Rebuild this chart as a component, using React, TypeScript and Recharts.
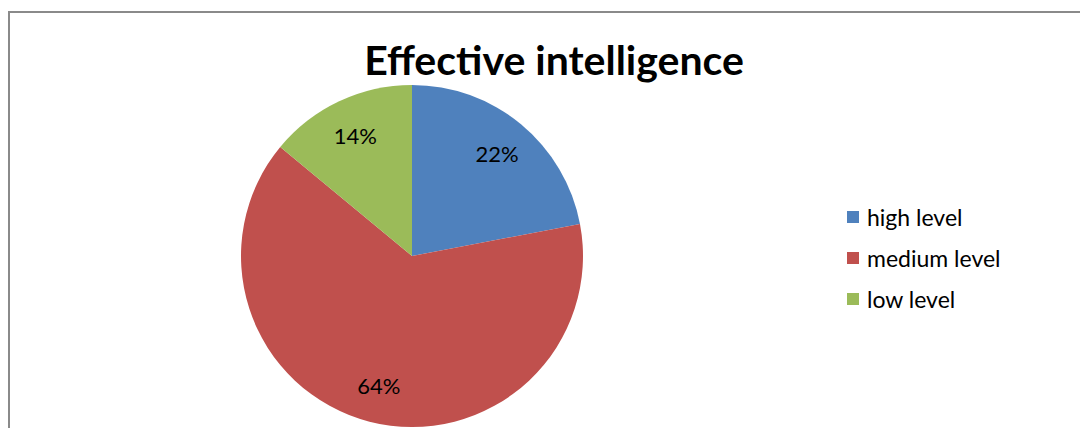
import { Pie, PieChart, Cell, Legend, PieLabelRenderProps } from "recharts";

const levels = ["high level", "medium level", "low level"];
const shares = [22, 64, 14];
const colors = ["#4F81BD", "#C0504D", "#9BBB59"];

const data = levels.map((level, i) => ({ level, share: shares[i] }));

const FONT = "Lato, Carlito, Calibri, sans-serif";

const renderLabel = ({ cx, cy, midAngle, outerRadius, value }: PieLabelRenderProps) => {
  const RADIAN = Math.PI / 180;
  const r = Number(outerRadius) * 0.78;
  const x = Number(cx) + r * Math.cos(-RADIAN * Number(midAngle));
  const y = Number(cy) + r * Math.sin(-RADIAN * Number(midAngle));
  return (
    <text
      x={x}
      y={y}
      textAnchor="middle"
      dominantBaseline="central"
      fill="#000"
      fontSize={22}
      fontFamily={FONT}
    >{`${value}%`}</text>
  );
};

const renderLegend = () => (
  <ul style={{ listStyle: "none", margin: 0, padding: 0, fontFamily: FONT }}>
    {levels.map((level, i) => (
      <li key={level} style={{ display: "flex", alignItems: "center", height: 41, fontSize: 23, color: "#000" }}>
        <span style={{ display: "inline-block", width: 12, height: 12, background: colors[i], marginRight: 8 }} />
        {level}
      </li>
    ))}
  </ul>
);

export default function App() {
  return (
    <div
      style={{
        marginTop: 3,
        width: 1080,
        height: 417,
        boxSizing: "border-box",
        borderLeft: "2px solid #8a8a8a",
        borderTop: "2px solid #8a8a8a",
        overflow: "hidden",
      }}
    >
      <PieChart width={1078} height={415} margin={{ top: 0, right: 0, bottom: 0, left: 0 }}>
        <text x={544} y={62} textAnchor="middle" fontSize={41} fontWeight="bold" fontFamily={FONT} fill="#000">
          Effective intelligence
        </text>
        <Pie
          data={data}
          dataKey="share"
          nameKey="level"
          cx={402}
          cy={243}
          outerRadius={171}
          startAngle={90}
          endAngle={-270}
          stroke="none"
          label={renderLabel}
          labelLine={false}
          isAnimationActive={false}
        >
          {data.map((d, i) => (
            <Cell key={d.level} fill={colors[i]} />
          ))}
        </Pie>
        <Legend
          layout="vertical"
          content={renderLegend}
          wrapperStyle={{ left: 837, top: 183, width: 230 }}
        />
      </PieChart>
    </div>
  );
}
